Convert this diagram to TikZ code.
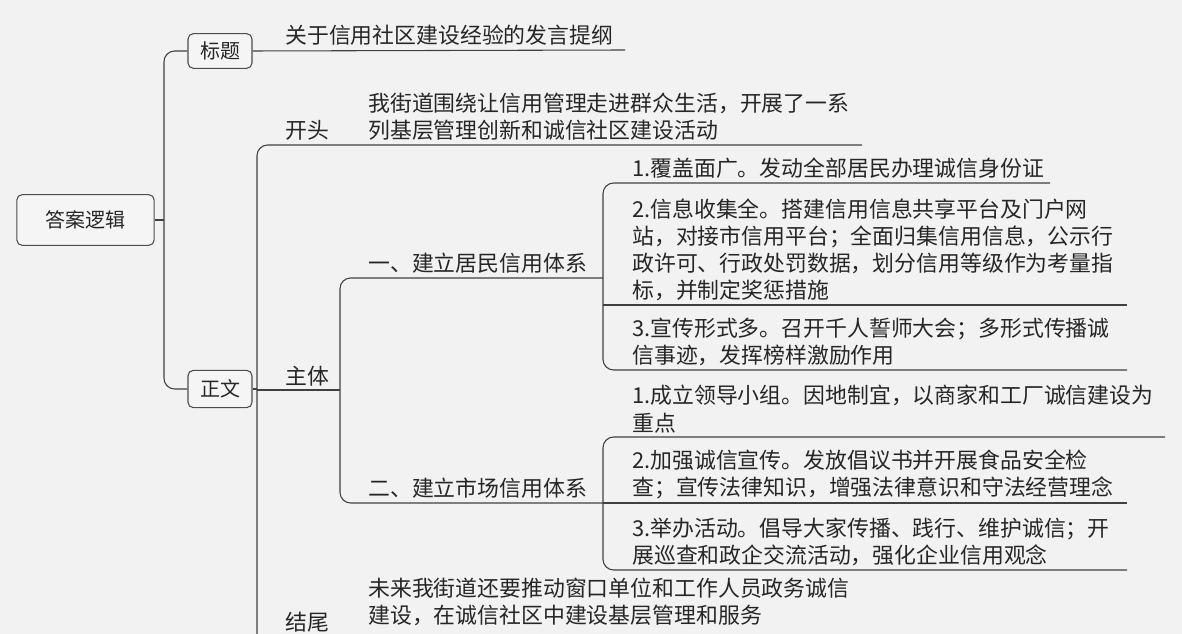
\documentclass[tikz,border=0pt]{standalone}
\usepackage{fontspec}
\setmainfont{Noto Sans CJK SC}
\begin{document}
\begin{tikzpicture}[x=0.75pt,y=-0.75pt,
  ln/.style={draw=black!75,line width=0.8pt},
  box/.style={draw=black!70,rounded corners=4pt,line width=0.8pt,fill=white!96!black,font=\fontsize{15}{18}\selectfont,inner sep=0pt,text=black!85},
  tx/.style={anchor=south west,inner xsep=0pt,inner ysep=3pt,align=left,font=\fontsize{16.4}{20.3}\selectfont,text=black!85}]
\fill[black!5] (0,0) rectangle (1182,634);
\useasboundingbox (0,0) rectangle (1182,634);
\node[box,minimum width=103pt,minimum height=38pt] (root) at (85.5,220) {答案逻辑};
\node[box,minimum width=48pt,minimum height=26pt] (bt) at (220,51) {标题};
\node[box,minimum width=48pt,minimum height=28pt] (zw) at (220,389) {正文};
\coordinate (r1) at (164,220);
\draw[ln] (root.east) -- (r1);
\draw[ln,rounded corners=8pt] (bt.west) -- (164,51) -- (164,389) -- (zw.west);
\coordinate (t1) at (625,50);
\draw[ln] (bt.east) -- (t1);
\node[tx] (tt) at (285,50) {关于信用社区建设经验的发言提纲};
\coordinate (z1) at (257,389);
\draw[ln] (zw.east) -- (z1);
\draw[ln,rounded corners=8pt] (862,145) -- (257,145) -- (257,640);
\node[tx] (kt) at (285,145) {开头};
\node[tx] (ktx) at (368,145) {我街道围绕让信用管理走进群众生活，开展了一系\\列基层管理创新和诚信社区建设活动};
\draw[ln] (257,390) -- (340,390);
\node[tx] (zt) at (285,390) {主体};
\node[tx] (jw) at (285,636) {结尾};
\node[tx] (jwx) at (368,630) {未来我街道还要推动窗口单位和工作人员政务诚信\\建设，在诚信社区中建设基层管理和服务};
\draw[ln,rounded corners=8pt] (603,278) -- (340,278) -- (340,503) -- (603,503);
\node[tx] (y1) at (368,278) {一、建立居民信用体系};
\node[tx] (y2) at (368,503) {二、建立市场信用体系};
\draw[ln,rounded corners=8pt] (1050,183) -- (603,183) -- (603,370) -- (1127,370);
\draw[ln] (603,305) -- (1127,305);
\node[tx] (a1) at (632,183) {1.覆盖面广。发动全部居民办理诚信身份证};
\node[tx] (a2) at (632,305) {2.信息收集全。搭建信用信息共享平台及门户网\\站，对接市信用平台；全面归集信用信息，公示行\\政许可、行政处罚数据，划分信用等级作为考量指\\标，并制定奖惩措施};
\node[tx] (a3) at (632,370) {3.宣传形式多。召开千人誓师大会；多形式传播诚\\信事迹，发挥榜样激励作用};
\draw[ln,rounded corners=8pt] (1165,437) -- (603,437) -- (603,570) -- (1127,570);
\draw[ln] (603,503) -- (1127,503);
\node[tx] (b1) at (632,437) {1.成立领导小组。因地制宜，以商家和工厂诚信建设为\\重点};
\node[tx] (b2) at (632,503) {2.加强诚信宣传。发放倡议书并开展食品安全检\\查；宣传法律知识，增强法律意识和守法经营理念};
\node[tx] (b3) at (632,570) {3.举办活动。倡导大家传播、践行、维护诚信；开\\展巡查和政企交流活动，强化企业信用观念};
\end{tikzpicture}
\end{document}
